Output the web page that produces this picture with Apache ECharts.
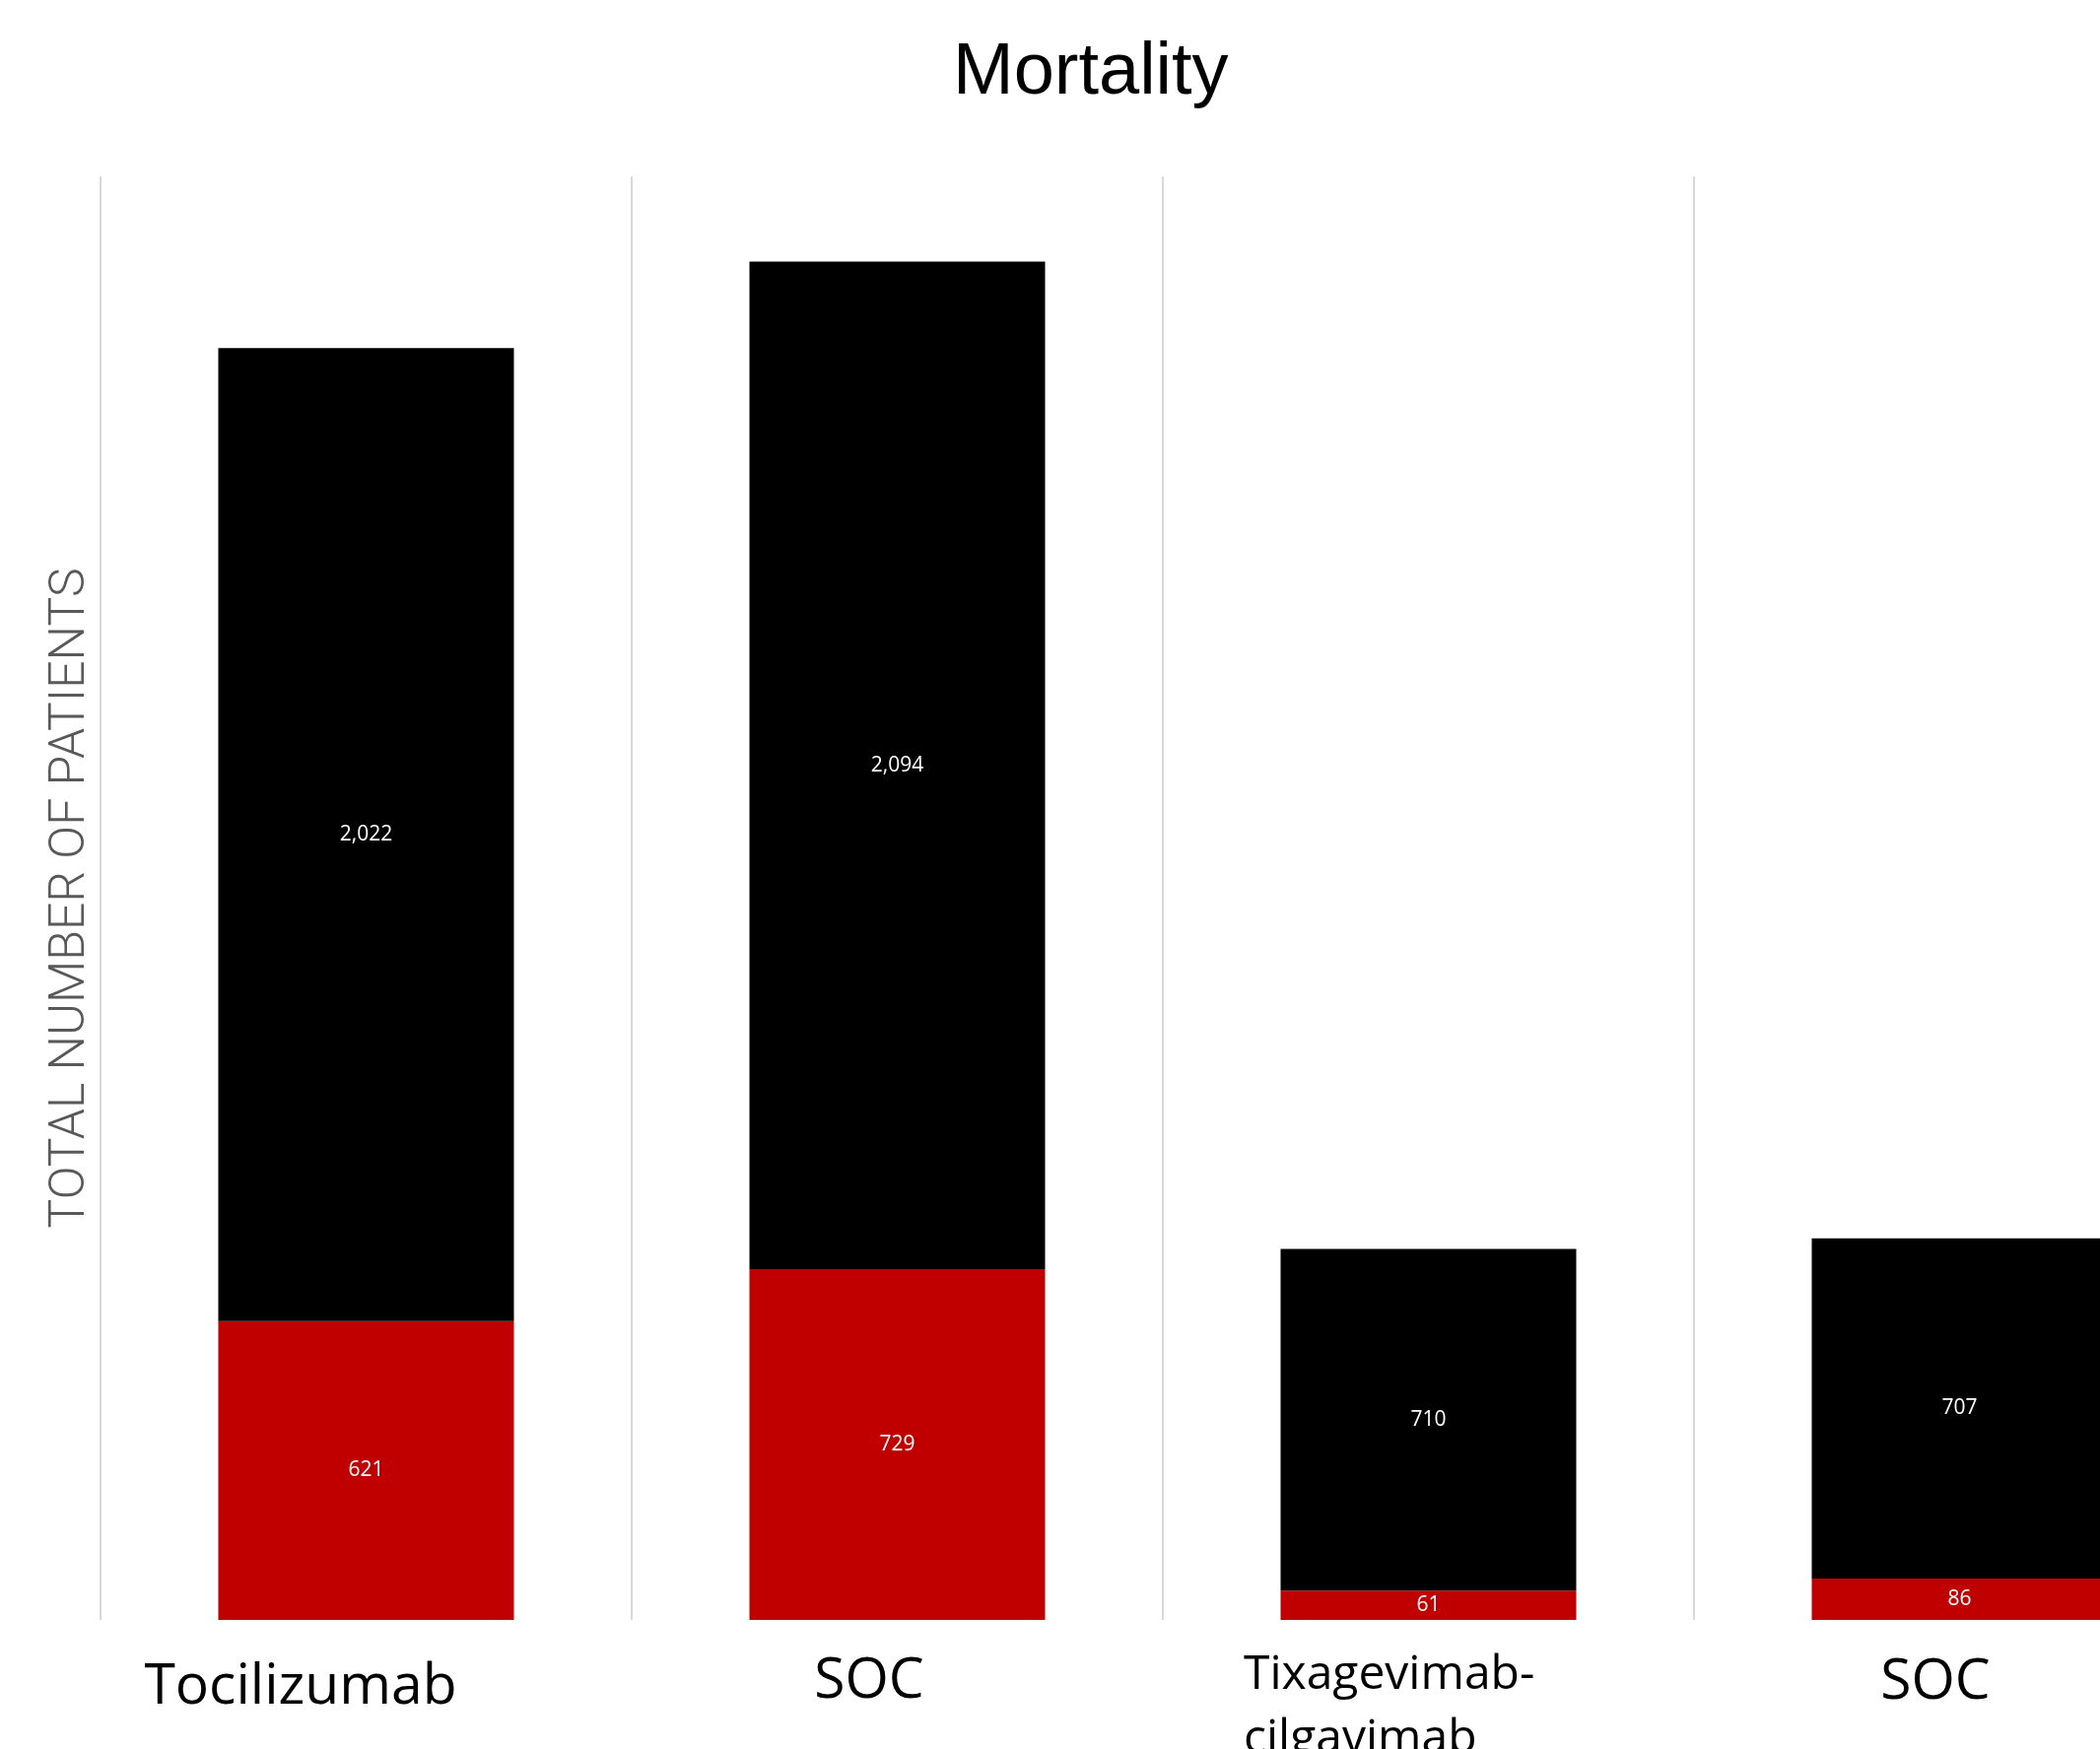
<!DOCTYPE html>
<html>
<head>
<meta charset="utf-8">
<title>Mortality</title>
<script src="https://cdn.jsdelivr.net/npm/echarts@6/dist/echarts.min.js"></script>
<style>
  html, body { margin: 0; padding: 0; background: #ffffff; }
  #chart { width: 2131px; height: 1775px; }
</style>
</head>
<body>
<div id="chart"></div>
<script>
// Treatment arms along the x axis
const categories = ['Tocilizumab', 'SOC', 'Tixagevimab-\ncilgavimab', 'SOC'];
// Patients who died (red, bottom of each stack)
const deaths = [621, 729, 61, 86];
// Patients who survived (black, stacked on top)
const survivors = [2022, 2094, 710, 707];

const chart = echarts.init(document.getElementById('chart'), null, { renderer: 'canvas' });

// Per-category label styles: nudges via padding, font size per arm
const labelStyles = [
  { fontSize: 57, padding: [16, 133, 0, 0] },
  { fontSize: 57, padding: [10, 57, 0, 0] },
  { fontSize: 48, width: 300, align: 'left', lineHeight: 65, padding: [0, 75, 0, 0] },
  { fontSize: 57, padding: [11, 49, 0, 0] }
];
const rich = {};
labelStyles.forEach((s, i) => {
  rich['c' + i] = Object.assign({
    fontFamily: '"Open Sans", "Noto Sans", sans-serif',
    color: '#000000'
  }, s);
});

const segLabel = {
  show: true,
  position: 'inside',
  color: '#ffffff',
  fontSize: 21,
  fontFamily: '"Open Sans", "Noto Sans", sans-serif',
  formatter: p => p.value.toLocaleString('en-US')
};

chart.setOption({
  backgroundColor: '#ffffff',
  animation: false,
  title: {
    text: 'Mortality',
    left: 962,
    top: 33,
    textStyle: {
      fontFamily: '"Liberation Sans", Arial, sans-serif',
      fontSize: 74,
      fontWeight: 'normal',
      color: '#000000'
    }
  },
  // The fourth arm runs past the right edge of the page
  grid: { left: 102, width: 2156, top: 179, height: 1465, containLabel: false, outerBoundsMode: 'none' },
  xAxis: {
    type: 'category',
    data: categories,
    boundaryGap: true,
    axisLine: { show: false },
    axisTick: { show: false },
    splitLine: { show: true, interval: 0, lineStyle: { color: '#d9d9d9', width: 2 } },
    axisLabel: {
      interval: 0,
      margin: 24,
      formatter: (value, index) =>
        value.split('\n').map(line => '{c' + index + '|' + line + '}').join('\n'),
      rich: rich
    }
  },
  yAxis: {
    type: 'value',
    min: 0,
    max: 3000,
    axisLine: { show: false },
    axisTick: { show: false },
    axisLabel: { show: false },
    splitLine: { show: false },
    name: 'TOTAL NUMBER OF PATIENTS',
    nameLocation: 'middle',
    nameRotate: 90,
    nameGap: 5,
    nameTextStyle: {
      fontFamily: 'Roboto, "Liberation Sans", sans-serif',
      fontWeight: 300,
      fontSize: 50,
      color: '#595959'
    }
  },
  series: [
    {
      name: 'Died',
      type: 'bar',
      stack: 'total',
      barWidth: 300,
      data: deaths,
      itemStyle: { color: '#c00000' },
      label: segLabel
    },
    {
      name: 'Survived',
      type: 'bar',
      stack: 'total',
      barWidth: 300,
      data: survivors,
      itemStyle: { color: '#000000' },
      label: segLabel
    }
  ]
});
</script>
</body>
</html>
